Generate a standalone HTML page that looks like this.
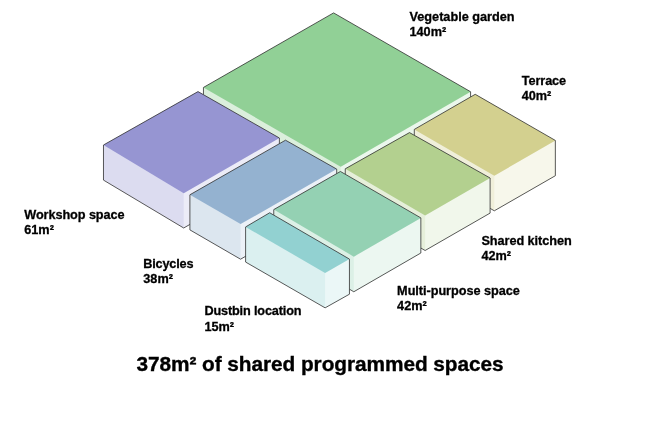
<!DOCTYPE html>
<html><head><meta charset="utf-8"><style>
html,body{margin:0;padding:0;background:#fff;}
body{width:650px;height:421px;overflow:hidden;}
svg{display:block;will-change:transform;}
.l{font-family:"Liberation Sans",sans-serif;font-weight:bold;font-size:12.7px;fill:#000;stroke:#000;stroke-width:0.3px;}
.t{font-family:"Liberation Sans",sans-serif;font-weight:bold;font-size:20.8px;fill:#000;stroke:#000;stroke-width:0.35px;}
</style></head><body>
<svg width="650" height="421" viewBox="0 0 650 421">
<g><polygon points="333.60,12.90 470.60,91.75 470.60,126.85 340.70,201.95 203.44,122.55 203.44,87.45" fill="#dbefdc"/>
<polygon points="470.60,91.75 340.70,166.85 340.70,201.95 470.60,126.85" fill="#ebf7ec"/>
<polygon points="333.60,12.90 470.60,91.75 340.70,166.85 203.44,87.45" fill="#91d096"/>
<polygon points="333.60,12.90 470.60,91.75 470.60,126.85 340.70,201.95 203.44,122.55 203.44,87.45" fill="none" stroke="#303030" stroke-width="0.8" stroke-linejoin="miter"/>
<polygon points="475.22,94.30 555.35,140.43 555.35,175.73 494.30,210.80 414.30,164.50 414.30,129.40" fill="#f0efda"/>
<polygon points="555.35,140.43 494.30,175.70 494.30,210.80 555.35,175.73" fill="#f7f7eb"/>
<polygon points="475.22,94.30 555.35,140.43 494.30,175.70 414.30,129.40" fill="#d3d08f"/>
<polygon points="475.22,94.30 555.35,140.43 555.35,175.73 494.30,210.80 414.30,164.50 414.30,129.40" fill="none" stroke="#303030" stroke-width="0.8" stroke-linejoin="miter"/>
<polygon points="409.50,132.60 490.10,178.00 490.10,213.10 425.10,250.50 345.25,203.90 345.25,168.80" fill="#e6efda"/>
<polygon points="490.10,178.00 425.10,215.40 425.10,250.50 490.10,213.10" fill="#f1f7eb"/>
<polygon points="409.50,132.60 490.10,178.00 425.10,215.40 345.25,168.80" fill="#b3d08f"/>
<polygon points="409.50,132.60 490.10,178.00 490.10,213.10 425.10,250.50 345.25,203.90 345.25,168.80" fill="none" stroke="#303030" stroke-width="0.8" stroke-linejoin="miter"/>
<polygon points="198.00,91.60 279.40,138.00 279.40,173.10 183.70,228.00 103.47,180.10 103.47,145.00" fill="#dcdcf0"/>
<polygon points="279.40,138.00 183.70,193.35 183.70,228.00 279.40,173.10" fill="#ececf7"/>
<polygon points="198.00,91.60 279.40,138.00 183.70,193.35 103.47,145.00" fill="#9695d2"/>
<polygon points="198.00,91.60 279.40,138.00 279.40,173.10 183.70,228.00 103.47,180.10 103.47,145.00" fill="none" stroke="#303030" stroke-width="0.8" stroke-linejoin="miter"/>
<polygon points="285.50,140.20 336.70,169.10 336.70,204.20 240.55,259.20 189.90,229.89 189.90,194.79" fill="#dce6ef"/>
<polygon points="336.70,169.10 240.55,224.10 240.55,259.20 336.70,204.20" fill="#ecf1f7"/>
<polygon points="285.50,140.20 336.70,169.10 240.55,224.10 189.90,194.79" fill="#94b2d0"/>
<polygon points="285.50,140.20 336.70,169.10 336.70,204.20 240.55,259.20 189.90,229.89 189.90,194.79" fill="none" stroke="#303030" stroke-width="0.8" stroke-linejoin="miter"/>
<polygon points="340.46,171.48 420.85,217.90 420.85,253.00 353.80,291.75 273.75,244.70 273.75,209.60" fill="#dcf0e6"/>
<polygon points="420.85,217.90 353.80,256.65 353.80,291.75 420.85,253.00" fill="#ecf7f1"/>
<polygon points="340.46,171.48 420.85,217.90 353.80,256.65 273.75,209.60" fill="#94d1b3"/>
<polygon points="340.46,171.48 420.85,217.90 420.85,253.00 353.80,291.75 273.75,244.70 273.75,209.60" fill="none" stroke="#303030" stroke-width="0.8" stroke-linejoin="miter"/>
<polygon points="269.70,212.75 349.45,259.10 349.45,294.20 325.10,307.85 245.60,262.05 245.60,226.95" fill="#dbf0f0"/>
<polygon points="349.45,259.10 325.10,272.90 325.10,307.85 349.45,294.20" fill="#ebf7f7"/>
<polygon points="269.70,212.75 349.45,259.10 325.10,272.90 245.60,226.95" fill="#92d1d1"/>
<polygon points="269.70,212.75 349.45,259.10 349.45,294.20 325.10,307.85 245.60,262.05 245.60,226.95" fill="none" stroke="#303030" stroke-width="0.8" stroke-linejoin="miter"/></g>
<g class="l"><text x="409.50" y="21.00" textLength="105.12" lengthAdjust="spacing">Vegetable garden</text><text x="409.50" y="36.30">140m²</text>
<text x="521.70" y="85.00" textLength="44.45" lengthAdjust="spacing">Terrace</text><text x="521.70" y="100.30">40m²</text>
<text x="24.25" y="218.90" textLength="100.32" lengthAdjust="spacing">Workshop space</text><text x="24.25" y="234.20">61m²</text>
<text x="143.30" y="268.10" textLength="50.15" lengthAdjust="spacing">Bicycles</text><text x="143.30" y="283.40">38m²</text>
<text x="481.40" y="244.50" textLength="90.25" lengthAdjust="spacing">Shared kitchen</text><text x="481.40" y="259.80">42m²</text>
<text x="397.10" y="294.50" textLength="122.63" lengthAdjust="spacing">Multi-purpose space</text><text x="397.10" y="309.80">42m²</text>
<text x="204.40" y="315.30" textLength="97.18" lengthAdjust="spacing">Dustbin location</text><text x="204.40" y="330.60">15m²</text></g>
<text class="t" x="136.5" y="371" textLength="367.07" lengthAdjust="spacing">378m² of shared programmed spaces</text>
</svg>
</body></html>
